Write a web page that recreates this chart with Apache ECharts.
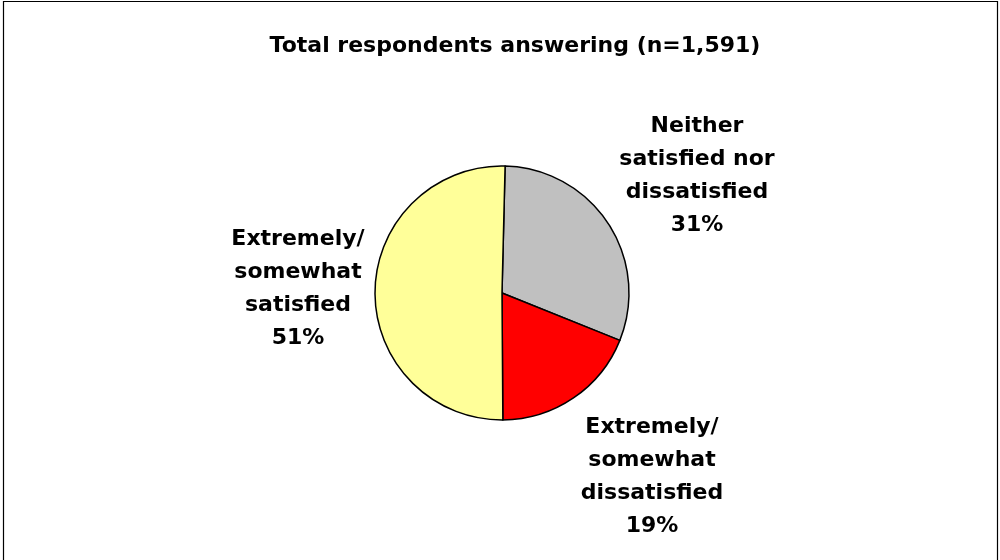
<!DOCTYPE html>
<html>
<head>
<meta charset="utf-8">
<script src="https://cdn.jsdelivr.net/npm/echarts@6/dist/echarts.min.js"></script>
<style>
  html, body { margin: 0; padding: 0; background: #fff; }
  #chart { width: 1000px; height: 560px; }
</style>
</head>
<body>
<div id="chart"></div>
<script>
// categories, clockwise from 12 o'clock
var categories = [
  'Neither\nsatisfied nor\ndissatisfied',
  'Extremely/\nsomewhat\ndissatisfied',
  'Extremely/\nsomewhat\nsatisfied'
];
var shares = [31, 19, 51];
var colors = ['#C0C0C0', '#FF0000', '#FFFF99'];

// where each label block sits (centre, px)
var labelSpots = [[697, 176], [652, 477], [298, 289]];

var font = '"DejaVu Sans", Arial, sans-serif';

var chart = echarts.init(document.getElementById('chart'));

var option = {
  animation: false,
  graphic: [{
    type: 'rect',
    shape: { x: 3.5, y: 1.5, width: 994, height: 620 },
    style: { fill: 'none', stroke: '#000', lineWidth: 1.2 },
    silent: true
  }],
  title: {
    text: 'Total respondents answering (n=1,591)',
    left: 510,
    top: 30,
    textAlign: 'center',
    textStyle: {
      fontFamily: font,
      fontSize: 22,
      fontWeight: 'bold',
      color: '#000'
    }
  },
  series: [{
    type: 'pie',
    center: [502, 293],
    radius: 127,
    startAngle: 88.6,
    clockwise: true,
    itemStyle: { borderColor: '#000', borderWidth: 1.5 },
    emphasis: { disabled: true },
    label: {
      show: true,
      position: 'outside',
      formatter: '{b}\n{c}%',
      fontFamily: font,
      fontSize: 22,
      fontWeight: 'bold',
      lineHeight: 33,
      color: '#000',
      align: 'center'
    },
    labelLine: { show: false },
    labelLayout: function (params) {
      var p = labelSpots[params.dataIndex];
      return { x: p[0], y: p[1], align: 'center', verticalAlign: 'middle' };
    },
    data: categories.map(function (name, i) {
      return { name: name, value: shares[i], itemStyle: { color: colors[i] } };
    })
  }]
};

chart.setOption(option);
</script>
</body>
</html>
